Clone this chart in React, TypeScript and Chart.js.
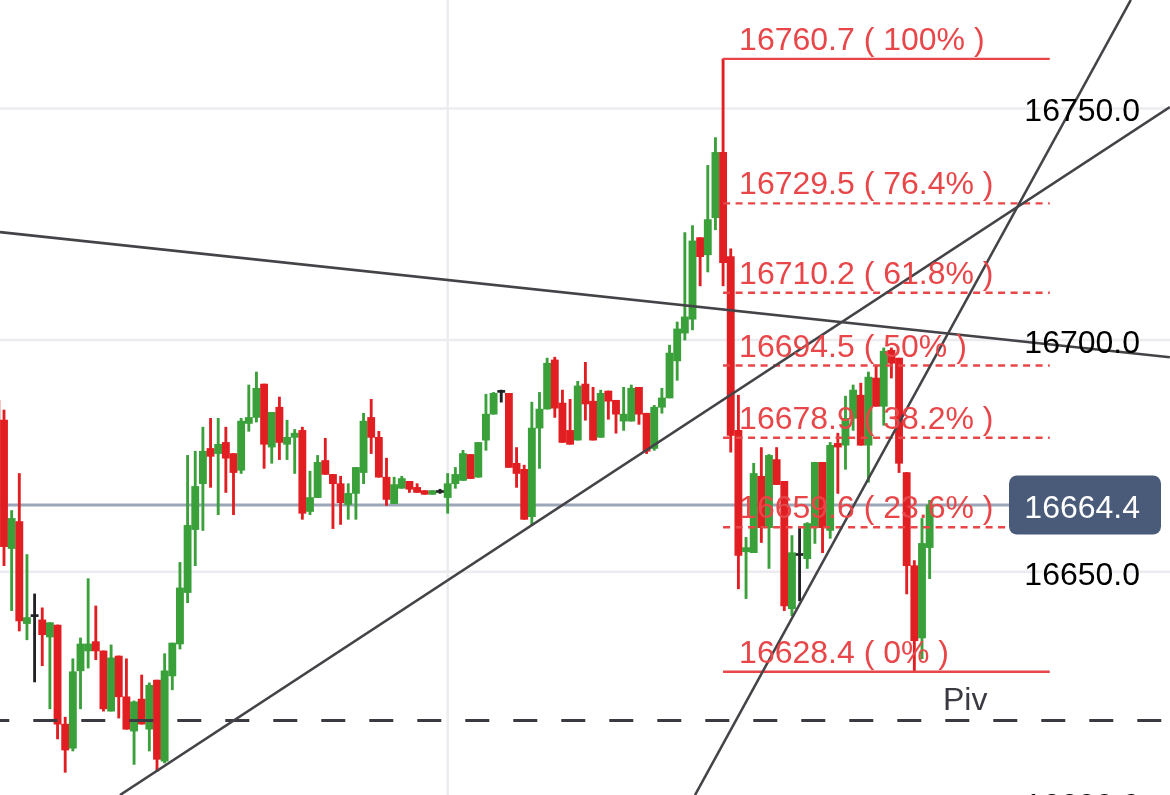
import { useEffect, useRef } from "react";
import { Chart, registerables } from "chart.js";

Chart.register(...registerables);

// OHLC, one entry per candle (oldest first)
const opens = [
  16687.0, 16682.7, 16655.0, 16660.8, 16638.8, 16640.3, 16639.6, 16635.9, 16638.5, 16617.1,
  16611.9, 16628.6, 16632.9, 16634.9, 16632.9, 16619.9, 16631.8, 16623.0, 16615.6, 16622.5,
  16616.0, 16626.6, 16609.1, 16627.5, 16634.4, 16645.5, 16659.1, 16669.0, 16676.6, 16675.5,
  16677.9, 16675.5, 16671.9, 16682.0, 16683.3, 16690.5, 16676.9, 16685.5, 16677.5, 16679.0,
  16680.5, 16663.0, 16666.0, 16674.0, 16671.0, 16669.0, 16664.5, 16666.9, 16671.4, 16683.3,
  16679.0, 16670.4, 16664.7, 16668.0, 16669.5, 16668.2, 16667.5, 16666.7, 16667.1, 16666.0,
  16669.0, 16669.7, 16675.3, 16670.4, 16678.4, 16684.0, 16688.7, 16688.5, 16673.4, 16672.1,
  16661.9, 16681.0, 16685.1, 16695.7, 16686.4, 16680.5, 16678.4, 16690.5, 16686.8, 16679.0,
  16689.0, 16687.0, 16682.5, 16682.5, 16689.8, 16684.2, 16676.6, 16685.5, 16687.5, 16695.5,
  16701.5, 16704.5, 16722.1, 16718.4, 16726.4, 16740.5, 16718.0, 16680.5, 16654.3, 16654.1,
  16670.6, 16659.5, 16674.2, 16669.5, 16642.0, 16653.5, 16652.8, 16659.5, 16673.6, 16658.9,
  16677.7, 16677.3, 16683.1, 16688.1, 16677.3, 16691.8, 16685.7, 16697.8, 16696.1, 16671.4,
  16651.3, 16635.7, 16655.2,
];
const highs = [
  16687.5, 16684.9, 16663.2, 16671.2, 16653.7, 16645.2, 16642.2, 16639.0, 16638.5, 16618.6,
  16631.2, 16635.7, 16648.5, 16642.6, 16632.9, 16634.2, 16631.8, 16631.2, 16622.1, 16627.7,
  16626.0, 16626.6, 16632.3, 16634.6, 16652.0, 16675.1, 16676.0, 16681.2, 16683.1, 16683.1,
  16681.2, 16675.5, 16683.1, 16690.3, 16693.1, 16690.5, 16684.4, 16687.7, 16682.7, 16680.7,
  16681.2, 16671.7, 16675.1, 16678.8, 16671.0, 16670.6, 16669.0, 16672.5, 16684.2, 16687.2,
  16680.3, 16674.5, 16670.4, 16670.6, 16669.5, 16669.0, 16667.5, 16667.5, 16667.8, 16671.2,
  16672.5, 16676.2, 16675.3, 16677.9, 16688.3, 16688.7, 16689.2, 16688.5, 16676.8, 16673.0,
  16686.6, 16688.7, 16696.1, 16696.3, 16689.2, 16687.2, 16691.1, 16695.2, 16689.8, 16689.2,
  16689.0, 16687.0, 16689.8, 16690.3, 16689.8, 16684.2, 16685.9, 16689.6, 16698.9, 16703.9,
  16723.2, 16724.7, 16722.1, 16737.7, 16743.7, 16760.7, 16719.7, 16688.1, 16657.4, 16673.4,
  16676.8, 16675.3, 16676.8, 16669.5, 16657.8, 16659.5, 16660.6, 16673.6, 16673.6, 16677.9,
  16679.9, 16687.9, 16690.3, 16690.7, 16693.1, 16694.6, 16698.3, 16698.3, 16696.1, 16671.4,
  16652.4, 16661.5, 16665.4,
];
const lows = [
  16680.5, 16651.3, 16641.6, 16637.2, 16635.3, 16626.2, 16629.7, 16620.4, 16613.9, 16606.7,
  16611.3, 16620.4, 16629.2, 16631.0, 16619.9, 16619.9, 16618.4, 16616.0, 16608.4, 16617.1,
  16611.3, 16606.9, 16608.7, 16624.5, 16633.3, 16643.3, 16651.3, 16658.9, 16668.2, 16662.3,
  16667.1, 16662.3, 16671.2, 16680.3, 16682.3, 16672.3, 16673.4, 16674.2, 16674.2, 16671.2,
  16661.3, 16662.3, 16666.0, 16671.0, 16659.3, 16660.2, 16661.3, 16661.3, 16669.0, 16675.5,
  16670.4, 16664.3, 16664.7, 16668.0, 16667.1, 16667.1, 16666.7, 16666.7, 16666.9, 16662.6,
  16668.0, 16669.7, 16670.1, 16670.4, 16676.2, 16684.0, 16686.6, 16672.5, 16668.2, 16661.3,
  16660.0, 16672.3, 16685.1, 16683.3, 16677.9, 16677.5, 16678.4, 16682.7, 16678.4, 16679.0,
  16682.9, 16679.9, 16680.5, 16682.5, 16681.8, 16675.5, 16676.2, 16684.2, 16687.5, 16691.3,
  16700.0, 16702.2, 16711.7, 16714.7, 16723.8, 16711.7, 16675.8, 16646.3, 16644.2, 16654.1,
  16656.3, 16650.7, 16668.8, 16641.6, 16640.5, 16643.7, 16650.7, 16656.1, 16654.1, 16657.2,
  16666.9, 16672.1, 16680.5, 16677.3, 16669.3, 16685.7, 16681.6, 16691.8, 16671.4, 16645.2,
  16628.4, 16631.2, 16648.5,
];
const closes = [
  16682.7, 16655.4, 16661.5, 16639.4, 16640.1, 16640.3, 16636.4, 16639.0, 16617.1, 16611.5,
  16628.4, 16634.4, 16634.4, 16632.9, 16620.4, 16631.4, 16623.0, 16616.0, 16621.9, 16617.1,
  16625.5, 16609.5, 16628.6, 16634.6, 16646.5, 16660.0, 16668.4, 16676.0, 16674.9, 16677.5,
  16674.5, 16671.4, 16682.5, 16683.3, 16689.6, 16677.5, 16684.4, 16677.9, 16679.0, 16679.9,
  16662.6, 16666.0, 16673.6, 16671.0, 16669.0, 16664.9, 16666.9, 16672.5, 16682.5, 16679.0,
  16670.4, 16665.6, 16668.8, 16670.1, 16667.8, 16667.1, 16666.7, 16667.5, 16667.1, 16669.0,
  16671.0, 16675.5, 16670.1, 16677.9, 16684.0, 16688.5, 16688.7, 16672.5, 16671.2, 16661.3,
  16681.0, 16685.1, 16695.0, 16685.3, 16677.9, 16677.5, 16690.1, 16686.2, 16678.4, 16688.5,
  16686.8, 16684.0, 16684.0, 16689.6, 16684.0, 16676.0, 16685.5, 16687.5, 16697.2, 16702.4,
  16705.0, 16721.4, 16718.0, 16726.0, 16740.5, 16716.7, 16679.4, 16653.5, 16655.2, 16671.2,
  16659.5, 16675.1, 16668.8, 16642.6, 16654.1, 16653.5, 16660.4, 16673.6, 16659.5, 16677.3,
  16676.9, 16683.1, 16689.2, 16677.3, 16692.0, 16685.7, 16697.6, 16695.0, 16673.4, 16651.3,
  16635.1, 16656.1, 16664.4,
];

const priceTicks = [16600, 16650, 16700, 16750];
const timeGrid = [59];
const lastPrice = 16664.4;
const pivot = 16617.9;

const fibValues = [16760.7, 16729.5, 16710.2, 16694.5, 16678.9, 16659.6, 16628.4];
const fibLabels = ["100%", "76.4%", "61.8%", "50%", "38.2%", "23.6%", "0%"];
const fibFrom = 95;
const fibTo = 137.7;

// trend lines as [x0, y0, x1, y1] in candle index / price
const trendLines = [
  [0.48, 16723.3, 153.4, 16696.3],
  [16.16, 16601.8, 153.4, 16750.3],
  [91.33, 16601.8, 148.3, 16773.4],
];

const X_MIN = 0.477;
const X_MAX = 153.42;
const Y_MIN = 16601.8;
const Y_MAX = 16773.4;

const RED = "rgb(225,30,34)";
const GREEN = "rgb(58,160,58)";
const DOJI = "rgb(34,34,38)";
const FIB = "rgb(232,70,72)";
const FONT = '32px "Liberation Sans", Arial, sans-serif';

const candleColor = (i: number) =>
  closes[i] > opens[i] ? GREEN : closes[i] < opens[i] ? RED : DOJI;

const overlay = {
  id: "overlay",
  beforeDatasetsDraw(chart: any) {
    const { ctx, chartArea, scales } = chart;
    const { x, y } = scales;
    ctx.save();
    ctx.strokeStyle = "rgb(236,236,240)";
    ctx.lineWidth = 2.5;
    for (const v of priceTicks) {
      const py = y.getPixelForValue(v);
      ctx.beginPath();
      ctx.moveTo(chartArea.left, py);
      ctx.lineTo(chartArea.right, py);
      ctx.stroke();
    }
    for (const v of timeGrid) {
      const px = x.getPixelForValue(v);
      ctx.beginPath();
      ctx.moveTo(px, chartArea.top);
      ctx.lineTo(px, chartArea.bottom);
      ctx.stroke();
    }
    // last price line, stops at the price tag
    const ly = y.getPixelForValue(lastPrice);
    ctx.strokeStyle = "rgb(155,166,184)";
    ctx.lineWidth = 3;
    ctx.beginPath();
    ctx.moveTo(chartArea.left, ly);
    ctx.lineTo(chartArea.right - 161, ly);
    ctx.stroke();
    ctx.restore();
  },
  afterDatasetsDraw(chart: any) {
    const { ctx, chartArea, scales } = chart;
    const { x, y } = scales;
    ctx.save();
    ctx.font = FONT;

    // fib labels
    ctx.fillStyle = FIB;
    ctx.textAlign = "left";
    ctx.textBaseline = "alphabetic";
    const fx = x.getPixelForValue(fibFrom) + 16;
    fibValues.forEach((v, k) => {
      ctx.fillText(`${v.toFixed(1)} ( ${fibLabels[k]} )`, fx, y.getPixelForValue(v) - 9);
    });

    // pivot label
    ctx.fillStyle = "rgb(58,58,66)";
    ctx.fillText("Piv", 943, y.getPixelForValue(pivot) - 10);

    // price axis labels
    const rx = chartArea.right - 30;
    ctx.textAlign = "right";
    ctx.fillStyle = "#000";
    for (const v of priceTicks) {
      ctx.fillText(v.toFixed(1), rx, y.getPixelForValue(v) + 13);
    }

    // last price tag
    const ly = y.getPixelForValue(lastPrice);
    ctx.fillStyle = "rgb(74,91,121)";
    ctx.beginPath();
    ctx.roundRect(chartArea.right - 161, ly - 29.5, 152, 59, 8);
    ctx.fill();
    ctx.fillStyle = "#fff";
    ctx.fillText(lastPrice.toFixed(1), rx, ly + 13);
    ctx.restore();
  },
};

const CandleChart = () => {
  const canvasRef = useRef<HTMLCanvasElement>(null);
  const chartRef = useRef<Chart | null>(null);

  useEffect(() => {
    if (!canvasRef.current) return;
    if (chartRef.current) chartRef.current.destroy();
    const ctx = canvasRef.current.getContext("2d");
    if (!ctx) return;

    const idx = opens.map((_, i) => i);
    const colors = idx.map(candleColor);

    const lineSet = (pts: { x: number; y: number }[], color: string, width: number, order: number, dash: number[] = [], dashOffset = 0) => ({
      type: "line" as const,
      data: pts,
      borderColor: color,
      borderWidth: width,
      borderDash: dash,
      borderDashOffset: dashOffset,
      pointRadius: 0,
      fill: false,
      tension: 0,
      order,
    });

    const datasets: any[] = [
      {
        type: "bar",
        data: idx.map((i) => ({ x: i, y: [lows[i], highs[i]] })),
        backgroundColor: colors,
        barThickness: 2.2,
        grouped: false,
        order: 10,
      },
      {
        type: "bar",
        data: idx.map((i) => ({ x: i, y: [opens[i], closes[i]] })),
        backgroundColor: colors,
        barThickness: 7.2,
        minBarLength: 2,
        grouped: false,
        order: 9,
      },
      lineSet([{ x: X_MIN, y: pivot }, { x: X_MAX, y: pivot }], "rgb(58,58,66)", 3, 3, [24, 24], 14.7),
      ...fibValues.map((v, k) =>
        lineSet(
          [{ x: fibFrom, y: v }, { x: fibTo, y: v }],
          FIB,
          2.4,
          2,
          k === 0 || k === fibValues.length - 1 ? [] : [7, 5.5]
        )
      ),
      ...trendLines.map((t) =>
        lineSet([{ x: t[0], y: t[1] }, { x: t[2], y: t[3] }], "rgb(68,68,72)", 2.6, 1)
      ),
    ];

    chartRef.current = new Chart(ctx, {
      type: "bar",
      data: { datasets },
      options: {
        animation: false,
        responsive: true,
        maintainAspectRatio: false,
        layout: { padding: 0 },
        plugins: {
          legend: { display: false },
          tooltip: { enabled: false },
        },
        scales: {
          x: { type: "linear", min: X_MIN, max: X_MAX, display: false, offset: false },
          y: { type: "linear", min: Y_MIN, max: Y_MAX, display: false },
        },
      },
      plugins: [overlay],
    });

    return () => {
      if (chartRef.current) {
        chartRef.current.destroy();
        chartRef.current = null;
      }
    };
  }, []);

  return (
    <div style={{ position: "fixed", left: 0, top: 0, width: 1170, height: 795, background: "#fff" }}>
      <canvas ref={canvasRef}></canvas>
    </div>
  );
};

export default function App() {
  return <CandleChart />;
}
